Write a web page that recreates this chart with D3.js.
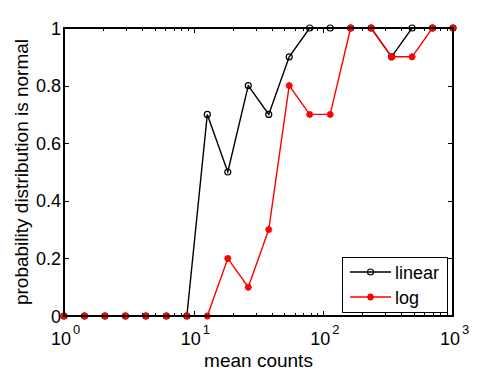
<!DOCTYPE html>
<html>
<head>
<meta charset="utf-8">
<script src="https://cdn.jsdelivr.net/npm/d3@7"></script>
<style>
body { margin: 0; background: #fff; }
text { font-family: "Liberation Sans", Arial, sans-serif; fill: #000; }
</style>
</head>
<body>
<div id="chart"></div>
<script>
// mean counts (log spaced, 20 points from 1 to 1000)
var meanCounts = [1, 1.438, 2.069, 2.976, 4.281, 6.158, 8.859, 12.74, 18.33, 26.37,
	37.93, 54.56, 78.48, 112.9, 162.4, 233.6, 336.0, 483.3, 695.2, 1000];
var linearVals = [0, 0, 0, 0, 0, 0, 0, 0.7, 0.5, 0.8, 0.7, 0.9, 1, 1, 1, 1, 0.9, 1, 1, 1];
var logVals = [0, 0, 0, 0, 0, 0, 0, 0, 0.2, 0.1, 0.3, 0.8, 0.7, 0.7, 1, 1, 0.9, 0.9, 1, 1];
var yTicks = [0, 0.2, 0.4, 0.6, 0.8, 1];
var yTickLabels = ["0", "0.2", "0.4", "0.6", "0.8", "1"];
var xTicks = [1, 10, 100, 1000];
var xTickExps = ["0", "1", "2", "3"];
var seriesNames = ["linear", "log"];

var width = 500, height = 375;
var pLeft = 64, pRight = 453, pTop = 28, pBottom = 316;

var svg = d3.select("#chart").append("svg")
	.attr("width", width).attr("height", height);

var x = d3.scaleLog().domain([1, 1000]).range([pLeft, pRight]);
var y = d3.scaleLinear().domain([0, 1]).range([pBottom, pTop]);

// minor ticks for log axis
var minorTicks = [];
[1, 10, 100].forEach(function (d) {
	for (var k = 2; k <= 9; k++) minorTicks.push(d * k);
});

var ticks = svg.append("g").attr("stroke", "#000").attr("stroke-width", 1);
minorTicks.forEach(function (t) {
	var px = Math.round(x(t)) + 0.5;
	ticks.append("line").attr("x1", px).attr("x2", px).attr("y1", pBottom).attr("y2", pBottom - 3);
	ticks.append("line").attr("x1", px).attr("x2", px).attr("y1", pTop).attr("y2", pTop + 3);
});
xTicks.forEach(function (t) {
	var px = Math.round(x(t)) + 0.5;
	ticks.append("line").attr("x1", px).attr("x2", px).attr("y1", pBottom).attr("y2", pBottom - 5);
	ticks.append("line").attr("x1", px).attr("x2", px).attr("y1", pTop).attr("y2", pTop + 5);
});
yTicks.forEach(function (t) {
	var py = Math.round(y(t)) + 0.5;
	ticks.append("line").attr("x1", pLeft).attr("x2", pLeft + 5).attr("y1", py).attr("y2", py);
	ticks.append("line").attr("x1", pRight).attr("x2", pRight - 5).attr("y1", py).attr("y2", py);
});

// tick labels
svg.selectAll(".ylab").data(yTicks).enter().append("text")
	.attr("class", "ylab")
	.attr("x", pLeft - 3)
	.attr("y", function (d) { return y(d) + 6.5; })
	.attr("text-anchor", "end")
	.style("font-size", "18px")
	.text(function (d, i) { return yTickLabels[i]; });

xTicks.forEach(function (t, i) {
	var g = svg.append("g").attr("transform", "translate(" + x(t) + ",345)");
	g.append("text").attr("x", 7).attr("y", 0).attr("text-anchor", "end")
		.style("font-size", "18px").text("10");
	g.append("text").attr("x", 9).attr("y", -11).attr("text-anchor", "start")
		.style("font-size", "13px").text(xTickExps[i]);
});

// axis labels
svg.append("text")
	.attr("x", (pLeft + pRight) / 2).attr("y", 367)
	.attr("text-anchor", "middle").style("font-size", "19px")
	.text("mean counts");
svg.append("text")
	.attr("transform", "translate(28," + ((pTop + pBottom) / 2) + ") rotate(-90)")
	.attr("text-anchor", "middle").style("font-size", "19px")
	.text("probability distribution is normal");

var line = d3.line()
	.x(function (d) { return x(d[0]); })
	.y(function (d) { return y(d[1]); });

function starPath(r) {
	var d = r * 0.7;
	return "M" + (-r) + ",0L" + r + ",0M0," + (-r) + "L0," + r +
		"M" + (-d) + "," + (-d) + "L" + d + "," + d + "M" + (-d) + "," + d + "L" + d + "," + (-d);
}

var linData = meanCounts.map(function (m, i) { return [m, linearVals[i]]; });
var logData = meanCounts.map(function (m, i) { return [m, logVals[i]]; });

svg.append("path").datum(linData).attr("d", line)
	.attr("fill", "none").attr("stroke", "#000").attr("stroke-width", 1.4);
svg.selectAll(".circ").data(linData).enter().append("circle")
	.attr("class", "circ")
	.attr("cx", function (d) { return x(d[0]); })
	.attr("cy", function (d) { return y(d[1]); })
	.attr("r", 3).attr("fill", "none").attr("stroke", "#000").attr("stroke-width", 1.2);

svg.append("path").datum(logData).attr("d", line)
	.attr("fill", "none").attr("stroke", "#ff0000").attr("stroke-width", 1.4);
svg.selectAll(".star").data(logData).enter().append("path")
	.attr("class", "star")
	.attr("transform", function (d) { return "translate(" + x(d[0]) + "," + y(d[1]) + ")"; })
	.attr("d", starPath(3.5))
	.attr("fill", "none").attr("stroke", "#ff0000").attr("stroke-width", 2);

// axes box
svg.append("rect")
	.attr("x", pLeft).attr("y", pTop)
	.attr("width", pRight - pLeft).attr("height", pBottom - pTop)
	.attr("fill", "none").attr("stroke", "#000").attr("stroke-width", 2);

// legend
var lg = svg.append("g");
lg.append("rect").attr("x", 342.5).attr("y", 257.5).attr("width", 105).attr("height", 55)
	.attr("fill", "#fff").attr("stroke", "#000").attr("stroke-width", 1);
var colors = ["#000", "#ff0000"];
seriesNames.forEach(function (name, i) {
	var ly = 272 + i * 25;
	lg.append("line").attr("x1", 350).attr("x2", 391).attr("y1", ly).attr("y2", ly)
		.attr("stroke", colors[i]).attr("stroke-width", 1.5);
	if (i === 0) {
		lg.append("circle").attr("cx", 370.5).attr("cy", ly).attr("r", 3)
			.attr("fill", "none").attr("stroke", "#000").attr("stroke-width", 1.2);
	} else {
		lg.append("path").attr("transform", "translate(370.5," + ly + ")")
			.attr("d", starPath(3.5)).attr("fill", "none")
			.attr("stroke", "#ff0000").attr("stroke-width", 2);
	}
	lg.append("text").attr("x", 395).attr("y", ly + 6.5)
		.style("font-size", "18px").text(name);
});
</script>
</body>
</html>
